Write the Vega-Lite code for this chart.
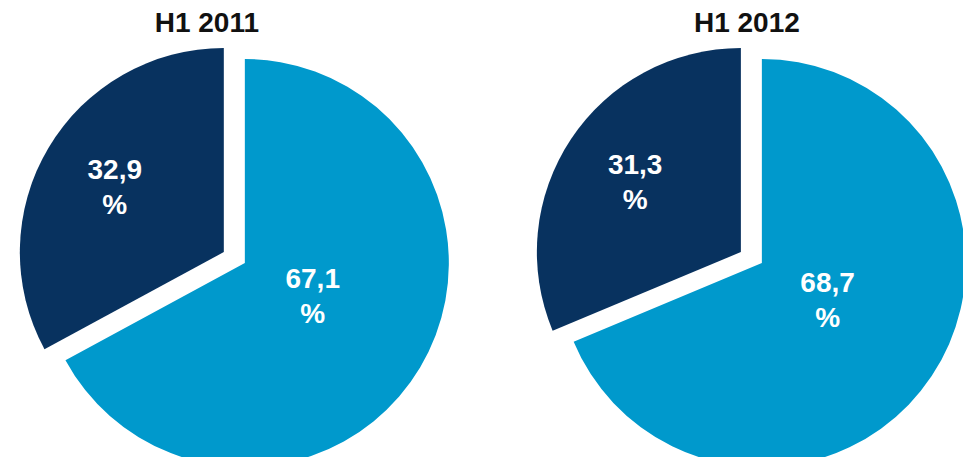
{
  "$schema": "https://vega.github.io/schema/vega-lite/v6.json",
  "width": 963,
  "height": 457,
  "padding": 0,
  "autosize": {"type": "none"},
  "background": "white",
  "config": {"view": {"stroke": null}},
  "datasets": {
    "shares": [
      {"year": "H1 2011", "segment": "light", "order": 1, "value": 67.1, "label": "67,1\n%"},
      {"year": "H1 2011", "segment": "dark", "order": 2, "value": 32.9, "label": "32,9\n%"},
      {"year": "H1 2012", "segment": "light", "order": 3, "value": 68.7, "label": "68,7\n%"},
      {"year": "H1 2012", "segment": "dark", "order": 4, "value": 31.3, "label": "31,3\n%"}
    ],
    "titles": [
      {"year": "H1 2011", "title": "H1 2011"},
      {"year": "H1 2012", "title": "H1 2012"}
    ]
  },
  "encoding": {
    "x": {"field": "year", "type": "nominal", "scale": {"type": "point", "padding": 0.4313, "align": 0.549}, "axis": null}
  },
  "layer": [
    {
      "data": {"name": "shares"},
      "mark": {"type": "arc", "outerRadius": 204},
      "encoding": {
        "y": {"datum": "pie", "type": "nominal", "scale": {"type": "point", "domain": ["title", "pie"], "padding": 0.448, "align": 0.1019}, "axis": null},
        "theta": {"field": "value", "type": "quantitative", "stack": true, "scale": {"domain": [0, 100]}},
        "order": {"field": "order", "type": "quantitative"},
        "detail": {"field": "year"},
        "color": {"field": "segment", "type": "nominal", "scale": {"domain": ["light", "dark"], "range": ["#0099CC", "#08325F"]}, "legend": null},
        "opacity": {"condition": {"test": "datum.segment === 'dark'", "value": 0}, "value": 1}
      }
    },
    {
      "data": {"name": "shares"},
      "mark": {"type": "arc", "outerRadius": 204, "xOffset": -21, "yOffset": -11},
      "encoding": {
        "y": {"datum": "pie", "type": "nominal"},
        "theta": {"field": "value", "type": "quantitative", "stack": true, "scale": {"domain": [0, 100]}},
        "order": {"field": "order", "type": "quantitative"},
        "detail": {"field": "year"},
        "color": {"field": "segment", "type": "nominal", "legend": null},
        "opacity": {"condition": {"test": "datum.segment === 'light'", "value": 0}, "value": 1}
      }
    },
    {
      "data": {"name": "shares"},
      "mark": {"type": "text", "radius": 79, "dy": -23, "font": "Liberation Sans", "fontWeight": "bold", "fontSize": 28, "lineBreak": "\n", "lineHeight": 35, "color": "white", "align": "center", "baseline": "middle"},
      "encoding": {
        "y": {"datum": "pie", "type": "nominal"},
        "theta": {"field": "value", "type": "quantitative", "stack": true, "scale": {"domain": [0, 100]}},
        "order": {"field": "order", "type": "quantitative"},
        "detail": [{"field": "year"}, {"field": "segment"}],
        "text": {"field": "label"},
        "opacity": {"condition": {"test": "datum.segment === 'dark'", "value": 0}, "value": 1}
      }
    },
    {
      "data": {"name": "shares"},
      "mark": {"type": "text", "radius": 127, "dy": -16, "xOffset": -21, "yOffset": -11, "font": "Liberation Sans", "fontWeight": "bold", "fontSize": 28, "lineBreak": "\n", "lineHeight": 35, "color": "white", "align": "center", "baseline": "middle"},
      "encoding": {
        "y": {"datum": "pie", "type": "nominal"},
        "theta": {"field": "value", "type": "quantitative", "stack": true, "scale": {"domain": [0, 100]}},
        "order": {"field": "order", "type": "quantitative"},
        "detail": [{"field": "year"}, {"field": "segment"}],
        "text": {"field": "label"},
        "opacity": {"condition": {"test": "datum.segment === 'light'", "value": 0}, "value": 1}
      }
    },
    {
      "data": {"name": "titles"},
      "transform": [{"filter": "datum.year === 'H1 2011'"}],
      "mark": {"type": "text", "dx": -38, "dy": 2, "font": "Liberation Sans", "fontWeight": "bold", "fontSize": 28, "color": "#111111", "align": "center", "baseline": "middle"},
      "encoding": {
        "y": {"datum": "title", "type": "nominal"},
        "text": {"field": "title"}
      }
    },
    {
      "data": {"name": "titles"},
      "transform": [{"filter": "datum.year === 'H1 2012'"}],
      "mark": {"type": "text", "dx": -15, "dy": 2, "font": "Liberation Sans", "fontWeight": "bold", "fontSize": 28, "color": "#111111", "align": "center", "baseline": "middle"},
      "encoding": {
        "y": {"datum": "title", "type": "nominal"},
        "text": {"field": "title"}
      }
    }
  ]
}
